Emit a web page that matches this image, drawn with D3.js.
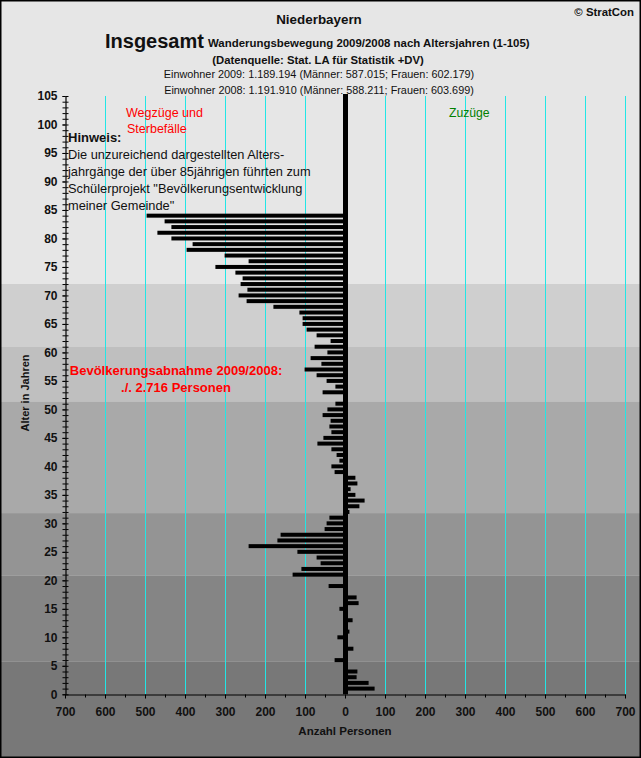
<!DOCTYPE html>
<html>
<head>
    <meta charset="utf-8">
    <title>Niederbayern Wanderungsbewegung 2009/2008</title>
    <script src="https://d3js.org/d3.v7.min.js"></script>
    <style>
        html, body { margin: 0; padding: 0; background: #e6e6e6; }
        svg { display: block; font-family: "Liberation Sans", Arial, sans-serif; }
        .tick text { font-size: 12px; font-weight: bold; fill: #111; }
        .domain, .tick line { stroke: #000; }
    </style>
</head>
<body>
    <svg width="641" height="758"></svg>
    <script>
        // net migration per age year, index = age (0 to 84)
        var ages = d3.range(0, 85);
        var values = [0, 74, 59, 29, 31, 0, -26, 0, 21, 0,
            -19, 11, 0, 19, 0, -14, 34, 29, 0, -41,
            0, -131, -109, -61, -71, -119, -241, -169, -161, -51,
            -46, -39, 11, 36, 49, 26, 14, 31, 26, -26,
            -34, -14, -21, -34, -69, -54, -34, -39, -36, -56,
            -44, -24, 0, -56, -24, -46, -71, -101, -59, -86,
            -44, -76, -36, -71, -96, -106, -106, -114, -179, -246,
            -266, -244, -261, -256, -274, -324, -241, -301, -396, -381,
            -434, -469, -434, -451, -496];

        // grey bands behind the chart: upper age limit and colour
        var bandTops = [105, 72, 61, 51.3, 31.8, 20.8, 5.7];
        var bandColors = ["#e6e6e6", "#cfcfcf", "#bfbfbf", "#a9a9a9", "#949494", "#858585", "#787878"];

        var xTicks = [-700, -600, -500, -400, -300, -200, -100, 0, 100, 200, 300, 400, 500, 600, 700];
        var xMinorTicks = d3.range(-650, 700, 100);
        var yTicks = d3.range(0, 106, 5);
        var yMinorTicks = d3.range(0, 106, 1);
        var gridValues = [-600, -500, -400, -300, -200, -100, 100, 200, 300, 400, 500, 600, 700];

        var headerLines = [
            { text: "Niederbayern", x: 319, y: 24, size: 13.4, weight: "bold", anchor: "middle" },
            { text: "© StratCon", x: 634, y: 16, size: 11.4, weight: "bold", anchor: "end" },
            { text: "Insgesamt", x: 105, y: 48, size: 20, weight: "bold", anchor: "start" },
            { text: "Wanderungsbewegung 2009/2008 nach Altersjahren (1-105)", x: 208, y: 47, size: 11.43, weight: "bold", anchor: "start" },
            { text: "(Datenquelle: Stat. LA für Statistik +DV)", x: 318, y: 64, size: 11.3, weight: "bold", anchor: "middle" },
            { text: "Einwohner 2009: 1.189.194 (Männer: 587.015; Frauen: 602.179)", x: 319, y: 78, size: 10.85, weight: "normal", anchor: "middle" },
            { text: "Einwohner 2008: 1.191.910 (Männer: 588.211; Frauen: 603.699)", x: 319, y: 94, size: 10.85, weight: "normal", anchor: "middle" }
        ];
        var noteLines = [
            { text: "Wegzüge und", x: 126, y: 117, size: 12.5, weight: "normal", color: "#ff0000", anchor: "start" },
            { text: "Sterbefälle", x: 127, y: 133, size: 12.5, weight: "normal", color: "#ff0000", anchor: "start" },
            { text: "Zuzüge", x: 449, y: 117, size: 12.2, weight: "normal", color: "#008000", anchor: "start" },
            { text: "Hinweis:", x: 68, y: 142, size: 13, weight: "bold", color: "#111", anchor: "start" },
            { text: "Die unzureichend dargestellten Alters-", x: 68, y: 159, size: 12.8, weight: "normal", color: "#111", anchor: "start" },
            { text: "jahrgänge der über 85jährigen führten zum", x: 68, y: 176, size: 12.8, weight: "normal", color: "#111", anchor: "start" },
            { text: "Schülerprojekt \"Bevölkerungsentwicklung", x: 68, y: 193, size: 12.8, weight: "normal", color: "#111", anchor: "start" },
            { text: "meiner Gemeinde\"", x: 68, y: 210, size: 12.8, weight: "normal", color: "#111", anchor: "start" },
            { text: "Bevölkerungsabnahme 2009/2008:", x: 176, y: 375, size: 13, weight: "bold", color: "#ff0000", anchor: "middle" },
            { text: "./. 2.716 Personen", x: 176, y: 392, size: 13, weight: "bold", color: "#ff0000", anchor: "middle" }
        ];

        var svg = d3.select("svg"),
            width = 641,
            height = 758;

        var xScale = d3.scaleLinear().domain([-700, 700]).range([65, 625]);
        var yScale = d3.scaleLinear().domain([0, 105]).range([694.3, 96]);
        var zeroX = xScale(0) + 0.5;

        // background bands, the lowest one runs down to the frame
        svg.selectAll("rect.band")
            .data(bandTops)
            .enter()
            .append("rect")
            .attr("class", "band")
            .attr("x", 0)
            .attr("width", width)
            .attr("y", function(d, i) { return i === 0 ? 0 : yScale(d); })
            .attr("height", function(d, i) {
                var top = i === 0 ? 0 : yScale(d);
                var next = i + 1 < bandTops.length ? yScale(bandTops[i + 1]) : height;
                return next - top;
            })
            .attr("fill", function(d, i) { return bandColors[i]; });

        svg.selectAll("line.grid")
            .data(gridValues)
            .enter()
            .append("line")
            .attr("class", "grid")
            .attr("x1", function(d) { return xScale(d) + 0.5; })
            .attr("x2", function(d) { return xScale(d) + 0.5; })
            .attr("y1", yScale(105))
            .attr("y2", yScale(0))
            .attr("stroke", "#22e6e6")
            .attr("stroke-width", 1);

        // bars
        svg.selectAll("rect.bar")
            .data(ages.filter(function(a) { return values[a] !== 0; }))
            .enter()
            .append("rect")
            .attr("class", "bar")
            .attr("x", function(a) { return Math.min(xScale(values[a]), zeroX); })
            .attr("width", function(a) { return Math.abs(xScale(values[a]) - zeroX); })
            .attr("y", function(a) { return yScale(a) - 2; })
            .attr("height", 4)
            .attr("fill", "#000");

        // thick zero line
        svg.append("rect")
            .attr("x", zeroX - 2.5)
            .attr("width", 5)
            .attr("y", yScale(105) - 2)
            .attr("height", yScale(0) - yScale(105) + 2)
            .attr("fill", "#000");

        // axes
        var fmtAbs = function(d) { return Math.abs(d); };

        svg.append("g")
            .attr("transform", "translate(0," + (yScale(0) + 0.2) + ")")
            .call(d3.axisBottom(xScale).tickValues(xMinorTicks).tickSize(3).tickFormat(""))
            .call(function(g) { g.select(".domain").remove(); });

        svg.append("g")
            .attr("class", "xAxis")
            .attr("transform", "translate(0," + (yScale(0) + 0.2) + ")")
            .call(d3.axisBottom(xScale).tickValues(xTicks).tickSize(4).tickSizeOuter(0).tickPadding(6).tickFormat(fmtAbs))
            .call(function(g) { g.select(".domain").attr("stroke-width", 1.2); g.selectAll("text").attr("dy", "0.95em"); });

        var yAxisG = svg.append("g")
            .attr("transform", "translate(65.5,0)");
        yAxisG.append("g")
            .call(d3.axisLeft(yScale).tickValues(yMinorTicks).tickSize(3).tickFormat(""))
            .call(function(g) { g.select(".domain").remove(); });
        yAxisG.append("g")
            .call(d3.axisRight(yScale).tickValues(yMinorTicks).tickSize(3).tickFormat(""))
            .call(function(g) { g.select(".domain").remove(); });
        yAxisG.append("g")
            .attr("class", "yAxis")
            .call(d3.axisLeft(yScale).tickValues(yTicks).tickSize(3).tickSizeOuter(0).tickPadding(5))
            .call(function(g) { g.select(".domain").attr("stroke-width", 1.2); });

        // titles and notes
        svg.selectAll("text.head")
            .data(headerLines.concat(noteLines))
            .enter()
            .append("text")
            .attr("class", "head")
            .attr("x", function(d) { return d.x; })
            .attr("y", function(d) { return d.y; })
            .attr("text-anchor", function(d) { return d.anchor; })
            .style("font-size", function(d) { return d.size + "px"; })
            .style("font-weight", function(d) { return d.weight; })
            .attr("fill", function(d) { return d.color || "#111"; })
            .text(function(d) { return d.text; });

        svg.append("text")
            .attr("x", 345)
            .attr("y", 735)
            .attr("text-anchor", "middle")
            .style("font-size", "11.5px")
            .style("font-weight", "bold")
            .attr("fill", "#111")
            .text("Anzahl Personen");

        svg.append("text")
            .attr("transform", "translate(29,393) rotate(-90)")
            .attr("text-anchor", "middle")
            .style("font-size", "11px")
            .style("font-weight", "bold")
            .attr("fill", "#111")
            .text("Alter in Jahren");

        // window frame
        svg.append("rect")
            .attr("x", 0.75)
            .attr("y", 0.75)
            .attr("width", width - 1.5)
            .attr("height", height - 1.5)
            .attr("fill", "none")
            .attr("stroke", "#000")
            .attr("stroke-width", 1.5);
    </script>
</body>
</html>
